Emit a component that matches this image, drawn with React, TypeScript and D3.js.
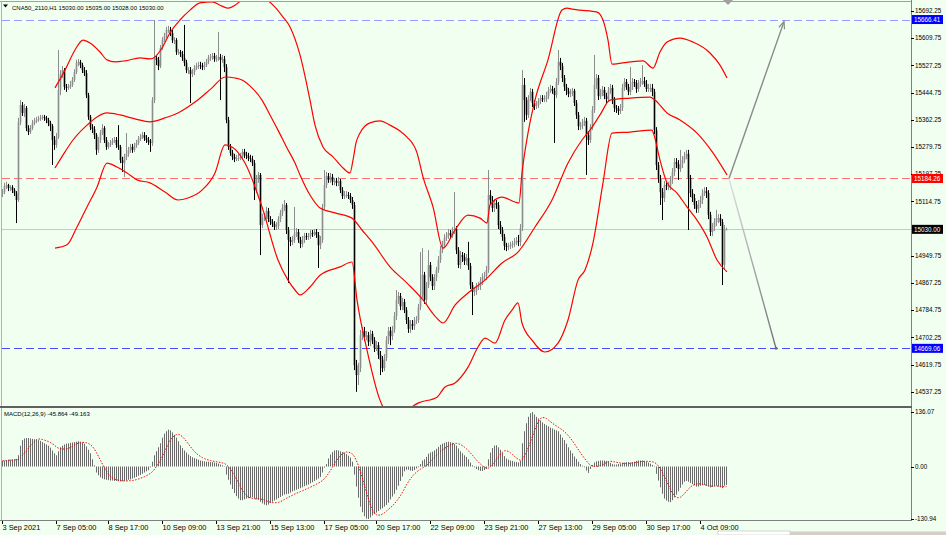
import React from 'react';
import * as d3 from 'd3';

const closes = [
15143,15161,15164,15155,15158,15149,15140,15119,15355,15407,
15383,15398,15337,15325,15337,15352,15359,15362,15365,15368,
15371,15368,15362,15352,15343,15301,15286,15310,15453,15501,
15513,15462,15459,15462,15468,15483,15507,15535,15538,15528,
15513,15504,15437,15371,15340,15334,15316,15271,15301,15322,
15337,15301,15280,15286,15292,15298,15301,15286,15280,15240,
15231,15250,15259,15271,15280,15271,15283,15292,15304,15310,
15316,15307,15301,15295,15292,15422,15550,15544,15525,15580,
15604,15616,15635,15635,15626,15604,15604,15568,15568,15562,
15550,15535,15513,15513,15501,15507,15519,15525,15528,15525,
15522,15528,15538,15550,15553,15556,15547,15547,15553,15544,
15547,15522,15362,15280,15262,15250,15243,15246,15246,15250,
15265,15256,15253,15246,15243,15231,15149,15180,15195,15043,
15064,15067,15086,15061,15052,15046,15037,15040,15061,15080,
15095,15104,15028,14998,14992,14998,15016,15022,14998,14986,
14998,15010,15007,15010,15019,15016,15022,15013,14982,14998,
15098,15164,15192,15180,15189,15174,15177,15171,15177,15149,
15131,15134,15134,15131,15119,15104,14618,14588,14609,14709,
14722,14703,14709,14688,14713,14694,14670,14679,14649,14634,
14609,14640,14694,14722,14706,14725,14767,14816,14828,14797,
14810,14785,14755,14728,14743,14737,14752,14755,14794,14831,
14892,14816,14861,14922,14885,14858,14885,14907,14937,14967,
14982,15004,15010,15019,15013,15025,15031,14967,14922,14952,
14946,14934,14943,14919,14861,14840,14843,14858,14858,14873,
14885,14888,14907,15134,15119,15095,15110,15104,15043,15028,
15007,14980,14977,14980,14982,14986,14989,14995,14992,15034,
15468,15422,15377,15428,15447,15413,15404,15407,15419,15428,
15425,15425,15434,15450,15456,15450,15437,15477,15538,15525,
15489,15462,15450,15441,15444,15450,15413,15377,15343,15343,
15352,15359,15316,15301,15340,15392,15468,15489,15434,15444,
15453,15434,15425,15450,15459,15422,15398,15395,15389,15398,
15459,15477,15462,15447,15462,15477,15474,15456,15471,15477,
15480,15471,15456,15459,15459,15447,15331,15225,15186,15143,
15125,15164,15161,15161,15180,15204,15234,15228,15213,15228,
15240,15252,15259,15186,15140,15125,15104,15092,15107,15119,
15140,15146,15140,15074,15022,15037,15052,15064,15064,15052,
14922,15030,15030
];

const highs = [
15152,15171,15174,15168,15164,15164,15155,15146,15368,15422,
15416,15410,15404,15346,15346,15362,15368,15371,15374,15377,
15377,15377,15374,15368,15359,15349,15313,15322,15574,15513,
15525,15519,15471,15471,15480,15492,15516,15544,15547,15544,
15535,15522,15513,15444,15377,15349,15343,15322,15310,15331,
15349,15343,15310,15295,15301,15307,15310,15310,15346,15286,
15250,15259,15322,15280,15289,15289,15292,15301,15313,15319,
15325,15325,15316,15310,15304,15431,15665,15559,15553,15589,
15613,15626,15644,15647,15644,15635,15613,15610,15577,15574,
15571,15650,15544,15522,15522,15516,15528,15535,15538,15538,
15535,15538,15547,15559,15562,15565,15565,15559,15629,15562,
15559,15556,15531,15371,15289,15271,15259,15256,15259,15262,
15274,15274,15265,15262,15256,15253,15240,15195,15204,15201,
15077,15080,15098,15095,15070,15061,15055,15052,15070,15089,
15107,15119,15110,15037,15007,15010,15098,15034,15031,15007,
15010,15019,15019,15019,15028,15028,15031,15031,15022,15010,
15107,15210,15204,15201,15201,15198,15186,15186,15189,15183,
15158,15146,15146,15143,15140,15128,15113,14634,14625,14725,
14734,14734,14722,14719,14725,14722,14703,14691,14688,14661,
14646,14652,14706,14734,14734,14737,14779,14846,14840,14837,
14822,14819,14794,14764,14755,14755,14764,14767,14804,14961,
14973,14901,14870,14967,14931,14894,14894,14916,14949,14980,
14995,15016,15022,15031,15028,15037,15143,15040,14976,14964,
14961,14958,14955,14992,14928,14870,14855,14867,14870,14885,
14897,14901,14919,15210,15149,15131,15122,15119,15113,15055,
15037,15016,14989,14989,14992,14995,15004,15007,15013,15046,
15513,15489,15431,15437,15459,15456,15422,15419,15428,15437,
15437,15437,15447,15462,15468,15465,15459,15489,15574,15550,
15535,15498,15471,15459,15456,15459,15456,15422,15386,15356,
15365,15371,15368,15328,15349,15404,15559,15501,15498,15456,
15465,15462,15444,15462,15471,15468,15431,15407,15404,15410,
15471,15489,15486,15471,15522,15489,15486,15483,15483,15489,
15528,15492,15483,15471,15471,15471,15456,15340,15234,15195,
15155,15177,15174,15174,15192,15216,15246,15246,15240,15271,
15252,15265,15271,15271,15195,15152,15137,15116,15119,15131,
15152,15158,15158,15149,15083,15049,15064,15089,15076,15076,
15061,15043,15035
];

const lows = [
15128,15137,15152,15146,15146,15140,15131,15049,15113,15346,
15374,15371,15328,15316,15319,15331,15346,15352,15356,15359,
15362,15359,15352,15343,15328,15225,15271,15277,15304,15437,
15489,15453,15447,15453,15456,15462,15477,15501,15525,15519,
15504,15495,15428,15362,15331,15322,15304,15256,15262,15292,
15316,15292,15271,15274,15280,15286,15292,15277,15271,15231,
15204,15189,15240,15250,15262,15262,15265,15277,15286,15298,
15304,15298,15292,15286,15265,15283,15413,15528,15513,15519,
15574,15598,15610,15626,15616,15595,15592,15559,15559,15553,
15541,15525,15504,15501,15413,15492,15498,15513,15516,15516,
15513,15513,15522,15531,15541,15544,15538,15538,15541,15422,
15535,15507,15352,15271,15253,15240,15234,15237,15237,15240,
15240,15246,15243,15237,15234,15222,15119,15140,15171,14952,
15034,15055,15058,15052,15043,15037,15028,15028,15031,15052,
15070,15086,15016,14867,14979,14982,14989,15007,14989,14973,
14976,14989,14998,14998,15001,15007,15010,15004,14913,14970,
14989,15089,15155,15171,15171,15164,15164,15161,15161,15140,
15122,15122,15125,15122,15110,15092,14603,14537,14558,14597,
14694,14691,14694,14676,14676,14682,14658,14661,14637,14588,
14597,14600,14631,14682,14679,14694,14716,14755,14804,14785,
14785,14776,14743,14716,14716,14725,14725,14743,14746,14785,
14822,14804,14804,14852,14873,14846,14846,14873,14898,14928,
14958,14973,14995,15001,15001,15004,15016,14955,14913,14910,
14931,14922,14922,14907,14849,14770,14828,14831,14846,14846,
14861,14876,14876,14898,15104,15083,15083,15092,15031,15016,
14995,14967,14964,14967,14970,14973,14976,14982,14979,14979,
15025,15356,15362,15368,15419,15401,15392,15395,15398,15410,
15416,15416,15416,15425,15444,15441,15292,15428,15468,15513,
15477,15450,15437,15431,15431,15434,15404,15365,15331,15331,
15334,15343,15195,15286,15292,15331,15383,15456,15422,15425,
15434,15425,15413,15416,15441,15410,15386,15383,15377,15380,
15389,15450,15453,15437,15437,15453,15462,15444,15447,15462,
15468,15462,15447,15447,15447,15434,15319,15210,15171,15104,
15058,15113,15149,15149,15149,15168,15192,15216,15180,15204,
15216,15231,15243,15028,15128,15113,15092,15080,15080,15095,
15107,15131,15125,15061,15010,15010,15025,15040,15049,15040,
14861,14907,15028
];

const firstOpen = 15137;

const macdMain = [
14,15,16,17,17,18,18,19,28,52,
66,70,71,71,70,69,68,67,66,64,
61,58,55,52,47,40,33,28,38,48,
52,55,57,58,59,60,61,62,63,62,
60,57,50,42,33,18,3,-15,-22,-27,
-30,-32,-33,-34,-35,-35,-36,-36,-37,-37,
-37,-36,-35,-33,-32,-30,-28,-26,-23,-21,
-18,-15,-12,-9,-2,12,28,38,48,58,
72,82,88,92,90,85,79,72,63,53,
46,40,35,30,26,23,21,19,17,15,
14,13,12,12,11,11,10,9,7,5,
3,1,-20,-33,-45,-56,-66,-74,-80,-84,
-84,-82,-80,-79,-78,-77,-80,-82,-83,-88,
-92,-95,-97,-95,-91,-88,-85,-82,-79,-76,
-73,-70,-69,-68,-65,-62,-60,-58,-56,-54,
-52,-49,-47,-45,-42,-39,-36,-33,-30,-26,
-15,-3,6,20,30,36,40,41,40,38,
36,34,31,27,22,12,-20,-50,-78,-100,
-114,-124,-130,-131,-127,-122,-119,-115,-111,-107,
-104,-100,-96,-90,-82,-75,-68,-58,-48,-36,
-25,-12,-8,-8,-10,-11,-9,-5,-2,6,
15,18,24,32,35,37,40,44,49,54,
57,59,61,62,61,59,56,52,45,38,
33,28,24,18,10,3,-2,-6,-9,-11,
-11,-9,-6,18,35,46,52,53,48,42,
34,26,20,17,15,14,12,11,10,14,
58,88,108,124,133,136,130,124,120,115,
110,106,103,100,97,95,92,90,88,80,
72,66,57,48,40,33,25,19,12,6,
2,-2,-10,-16,-6,4,10,13,14,15,
15,15,14,12,9,6,5,5,6,7,
9,10,11,11,10,11,12,14,15,15,
15,14,12,10,7,4,1,-18,-35,-52,
-68,-80,-85,-88,-89,-84,-77,-70,-62,-53,
-45,-38,-36,-38,-41,-44,-47,-50,-50,-48,
-46,-46,-48,-50,-52,-51,-49,-48,-50,-52,
-54,-48,-45.864
];

const upperIdx = [26.5,31.5,36.5,40.5,44,49,52.5,56.5,61.5,69,74,76.5,80,84,89,94,99,105,110,113,116.5,120,124,128,132.5,136.5,140.5,144,149,154,156.5,160.5,165.5,170.5,174,175.5,177,179,184,189,194,199,202.5,207.5,210.5,215.5,220.5,226.5,233,239,242.5,244,250,256.5,258.5,260,263,266.5,273,280,282.5,285,289,297.5,300.5,303,305,314,320.5,325.5,329,332.5,339,345.5,354,359,362.5];
const upperVal = [15459,15513,15574,15604,15595,15568,15544,15538,15541,15550,15547,15553,15580,15626,15665,15695,15717,15720,15707,15701,15710,15726,15738,15738,15726,15704,15674,15644,15559,15422,15346,15280,15250,15216,15201,15240,15292,15322,15353,15359,15346,15328,15310,15262,15189,15098,14973,15028,15073,15064,15049,15104,15128,15113,15110,15201,15322,15422,15544,15695,15701,15698,15695,15689,15665,15604,15531,15538,15541,15519,15568,15598,15610,15598,15565,15528,15489];

const middleIdx = [26.5,31.5,35.5,42.5,47.5,52.5,59,66.5,74,81.5,88,96.5,105,111.5,116.5,120,125,130,134,138,142.5,146.5,149,154,159,166.5,175,180,185.5,194,202.5,210.5,216.5,220.5,226.5,233,241.5,250,258,266.5,275,283,290,294,299,304,314,324,326.5,332.5,339,347.5,355.5,362.5];
const middleVal = [15216,15265,15301,15346,15371,15383,15377,15365,15356,15368,15383,15416,15459,15492,15489,15483,15459,15422,15377,15331,15277,15231,15195,15134,15095,15080,15064,15028,14988,14916,14867,14816,14767,14746,14800,14837,14876,14928,14961,15037,15119,15231,15301,15331,15377,15422,15428,15431,15422,15383,15362,15322,15262,15195];

const lowerIdx = [26.5,32.5,37.5,42.5,47.5,52.5,57.5,62.5,67.5,74,81.5,88,93,100,106.5,111.5,115,121.5,130,138,143,146.5,149,154,159,169,175,177.5,182.5,189,195,202,208,217.5,221.5,226.5,233,238,241.5,246.5,251.5,255,258,260,265,271.5,278,283,288,291.5,295.5,300.5,305,314,325,326,329,332.5,337.5,342.5,347.5,352.5,357.5,362.5];
const lowerVal = [14973,14983,15037,15098,15158,15231,15219,15201,15180,15171,15143,15119,15125,15149,15201,15286,15280,15231,15098,14937,14876,14846,14831,14855,14891,14916,14931,14816,14664,14512,14462,14480,14503,14521,14552,14564,14612,14673,14700,14685,14755,14785,14807,14746,14694,14658,14685,14755,14876,14907,14989,15171,15322,15325,15331,15316,15240,15171,15140,15098,15058,15007,14937,14901];

const priceTicks = [15692.25,15609.75,15527.25,15444.75,15362.25,15279.75,15197.25,15114.75,14949.75,14867.25,14784.75,14702.25,14619.75,14537.25];
const macdTicks = [136.07, 0, -130.94];
const macdTickText = ['136.07', '0.00', '-130.94'];

const timeLabels = ['3 Sep 2021','7 Sep 05:00','8 Sep 17:00','10 Sep 09:00','13 Sep 21:00','15 Sep 13:00','17 Sep 05:00','20 Sep 17:00','22 Sep 09:00','23 Sep 21:00','27 Sep 13:00','29 Sep 05:00','30 Sep 17:00','4 Oct 09:00'];
const timeLabelIdx = [0,27,53,80,107,134,161,187,214,241,268,295,322,349];

const levelPrices = [15666.41, 15184.26, 14669.06];
const levelText = ['15666.41', '15184.26', '14669.06'];
const currentPrice = 15030.0;

const arrowFrom = [363.5, 15184.26];
const arrowUpTo = [391, 15660];
const arrowDownTo = [387, 14669.06];

const titleText = 'CNA50_2110,H1  15030.00 15035.00 15028.00 15030.00';
const macdTitle = 'MACD(12,26,9) -45.864 -49.163';

const FONT = '"Liberation Sans", Arial, sans-serif';

export default function App() {
  const N = closes.length;
  const x = d3.scaleLinear().domain([0, N - 1]).range([2, 2 + 2 * (N - 1)]);
  const y = d3.scaleLinear().domain([14537.25, 15692.25]).range([391.8, 11]);
  const ym = d3.scaleLinear().domain([-130.94, 136.07]).range([519, 412]);

  const signal = macdMain.map((_, i) => {
    const s = macdMain.slice(Math.max(0, i - 8), i + 1);
    return d3.mean(s) as number;
  });

  const band = d3.line<[number, number]>()
    .x(d => x(d[0]))
    .y(d => y(d[1]))
    .curve(d3.curveMonotoneX);
  const mk = (a: number[], b: number[]) => a.map((v, i) => [v, b[i]] as [number, number]);

  const sigLine = d3.line<number>().x((_, i) => x(i) + 0.5).y(d => ym(d));

  const levelColors = ['#9a9aff', '#ff7070', '#4a4aff'];
  const levelBox = ['#0000ff', '#ff0000', '#0000ff'];

  const ax1 = x(arrowFrom[0]), ay1 = y(arrowFrom[1]);
  const axFont = 6.3;

  return (
    <svg width={946} height={535} style={{ position: 'fixed', left: 0, top: 0, background: '#f0fff0' }}
      xmlns="http://www.w3.org/2000/svg" fontFamily={FONT}>
      <defs>
        <clipPath id="mainClip"><rect x={2} y={2} width={909} height={404} /></clipPath>
        <clipPath id="macdClip"><rect x={2} y={408} width={909} height={112} /></clipPath>
        <linearGradient id="dnGrad" x1={ax1} y1={ay1} x2={x(arrowDownTo[0])} y2={y(arrowDownTo[1])} gradientUnits="userSpaceOnUse">
          <stop offset="0" stopColor="#e0e0e0" />
          <stop offset="1" stopColor="#707070" />
        </linearGradient>
      </defs>
      <rect x={0} y={0} width={946} height={535} fill="#f0fff0" />

      <g clipPath="url(#mainClip)">
        <line x1={2} x2={911} y1={Math.round(y(currentPrice)) + 0.5} y2={Math.round(y(currentPrice)) + 0.5} stroke="#c8c8c8" strokeWidth={1} />
        {levelPrices.map((p, k) => (
          <line key={k} x1={2} x2={911} y1={Math.round(y(p)) + 0.5} y2={Math.round(y(p)) + 0.5}
            stroke={levelColors[k]} strokeWidth={1} strokeDasharray="8 4" />
        ))}
        {closes.map((c, i) => {
          const o = i === 0 ? firstOpen : closes[i - 1];
          const up = c >= o;
          const col = up ? '#8c8c8c' : '#000000';
          const cx = Math.round(x(i)) + 0.5;
          const top = y(Math.max(o, c));
          const bot = y(Math.min(o, c));
          return (
            <g key={i}>
              <line x1={cx} x2={cx} y1={y(highs[i])} y2={y(lows[i])} stroke={col} strokeWidth={1} />
              <rect x={cx - 0.8} y={top} width={1.6} height={Math.max(1, bot - top)} fill={col} />
            </g>
          );
        })}
        {[mk(upperIdx, upperVal), mk(middleIdx, middleVal), mk(lowerIdx, lowerVal)].map((pts, k) => (
          <path key={k} d={band(pts) || ''} fill="none" stroke="#ff0000" strokeWidth={1.2} />
        ))}
        <line x1={ax1} y1={ay1} x2={x(arrowUpTo[0])} y2={y(arrowUpTo[1])} stroke="#8a8a8a" strokeWidth={1.4} />
        <line x1={ax1} y1={ay1} x2={x(arrowDownTo[0])} y2={y(arrowDownTo[1])} stroke="url(#dnGrad)" strokeWidth={1.4} />
        {(() => {
          const tip = [x(arrowUpTo[0]), y(arrowUpTo[1])];
          const ang = Math.atan2(tip[1] - ay1, tip[0] - ax1);
          const L = 7, Wd = 3;
          const p1 = [tip[0] - L * Math.cos(ang) + Wd * Math.sin(ang), tip[1] - L * Math.sin(ang) - Wd * Math.cos(ang)];
          const p2 = [tip[0] - L * Math.cos(ang) - Wd * Math.sin(ang), tip[1] - L * Math.sin(ang) + Wd * Math.cos(ang)];
          return <path d={`M${p1[0]},${p1[1]}L${tip[0]},${tip[1]}L${p2[0]},${p2[1]}`} fill="none" stroke="#8a8a8a" strokeWidth={1.2} />;
        })()}
        <circle cx={x(arrowDownTo[0])} cy={y(arrowDownTo[1])} r={1.5} fill="#707070" />
      </g>

      <g clipPath="url(#macdClip)">
        {macdMain.map((v, i) => (
          <line key={i} x1={Math.round(x(i)) + 0.5} x2={Math.round(x(i)) + 0.5} y1={ym(0)} y2={ym(v)} stroke="#6a6a6a" strokeWidth={1} />
        ))}
        <path d={sigLine(signal) || ''} fill="none" stroke="#ff0000" strokeWidth={1} strokeDasharray="1.5 1.5" />
      </g>

      <line x1={0} x2={911} y1={1.5} y2={1.5} stroke="#a0a0a0" strokeWidth={1} />
      <line x1={1.5} x2={1.5} y1={1} y2={521} stroke="#b0b0b0" strokeWidth={1} />
      <line x1={911.5} x2={911.5} y1={0} y2={521} stroke="#808080" strokeWidth={1} />
      <line x1={0} x2={912} y1={407} y2={407} stroke="#606060" strokeWidth={2} />
      <line x1={0} x2={912} y1={520.5} y2={520.5} stroke="#808080" strokeWidth={1} />

      <polygon points="723,0 733,0 728,5" fill="#a0a0a0" />
      <polygon points="3,4.5 8,4.5 5.5,7.5" fill="#000" />

      <text x={12} y={9.5} fontSize={6.0} fill="#000">{titleText}</text>
      <text x={4} y={415.5} fontSize={6.0} fill="#000">{macdTitle}</text>

      {priceTicks.map((p, k) => (
        <g key={k}>
          <line x1={911} x2={914} y1={Math.round(y(p)) + 0.5} y2={Math.round(y(p)) + 0.5} stroke="#000" />
          <text x={915} y={y(p)} dy="0.35em" fontSize={axFont} fill="#000">{d3.format('.2f')(p)}</text>
        </g>
      ))}
      {levelPrices.map((p, k) => (
        <g key={k}>
          <rect x={912} y={y(p) - 4.5} width={31} height={9} fill={levelBox[k]} />
          <text x={914} y={y(p)} dy="0.35em" fontSize={axFont} fill="#fff">{levelText[k]}</text>
        </g>
      ))}
      <rect x={912} y={y(currentPrice) - 4.5} width={31} height={9} fill="#000" />
      <text x={914} y={y(currentPrice)} dy="0.35em" fontSize={axFont} fill="#fff">{d3.format('.2f')(currentPrice)}</text>

      {macdTicks.map((v, k) => (
        <g key={k}>
          <line x1={911} x2={914} y1={Math.round(ym(v)) + 0.5} y2={Math.round(ym(v)) + 0.5} stroke="#000" />
          <text x={915} y={ym(v)} dy="0.35em" fontSize={axFont} fill="#000">{macdTickText[k]}</text>
        </g>
      ))}

      {timeLabelIdx.map((idx, k) => (
        <g key={k}>
          <line x1={Math.round(x(idx)) + 0.5} x2={Math.round(x(idx)) + 0.5} y1={521} y2={524} stroke="#000" />
          <text x={x(idx) + 0.5} y={530} fontSize={7.4} fill="#000">{timeLabels[k]}</text>
        </g>
      ))}

      <rect x={718} y={531} width={72} height={4} fill="#ffffff" stroke="#b0b0b0" strokeWidth={0.5} />
      <rect x={790} y={531.5} width={156} height={3.5} fill="#d4d0c8" />
    </svg>
  );
}
